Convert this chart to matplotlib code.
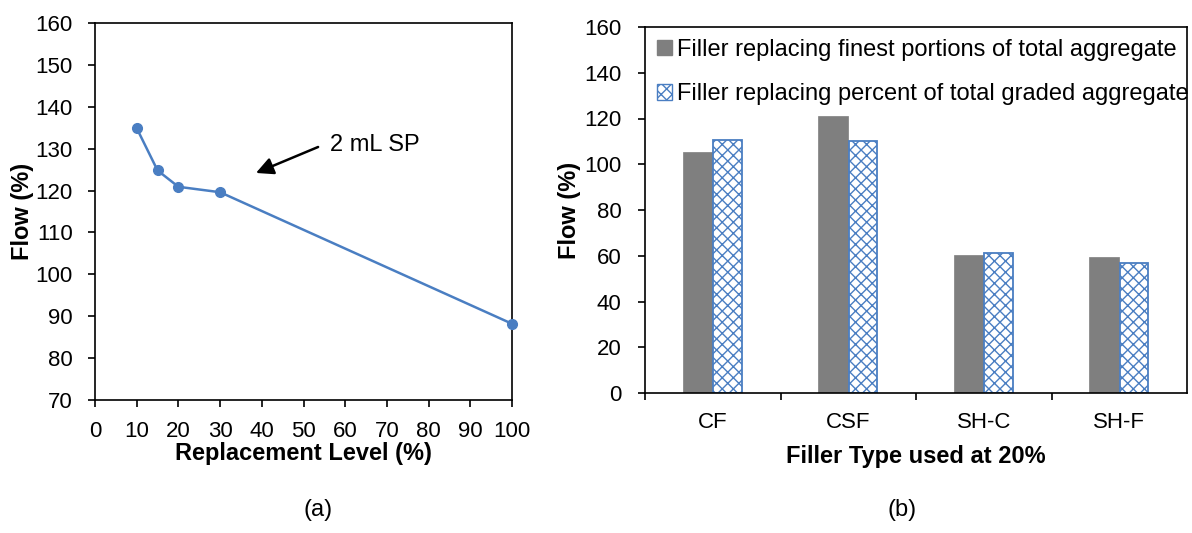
import matplotlib
matplotlib.use("Agg")
import matplotlib.pyplot as plt
from matplotlib.patches import Patch

plt.rcParams['font.family'] = ['Liberation Sans', 'DejaVu Sans']
plt.rcParams['hatch.linewidth'] = 1.0

# ---- data ----
repl_level = [10, 15, 20, 30, 100]
flow_a = [134.9, 124.8, 120.9, 119.6, 88.2]

categories = ['CF', 'CSF', 'SH-C', 'SH-F']
flow_finest = [105.2, 121.0, 60.4, 59.3]
flow_graded = [110.8, 110.1, 61.0, 56.9]
legend_labels = ['Filler replacing finest portions of total aggregate',
                 'Filler replacing percent of total graded aggregate']

W, H = 1192, 533
fig = plt.figure(figsize=(W / 100, H / 100), dpi=100)

def ax_rect(x0, y0, x1, y1):
    return [x0 / W, 1 - y1 / H, (x1 - x0) / W, (y1 - y0) / H]

blue = '#4A7EC2'
fs_tick = 16
fs_lab = 17

# ---- panel (a) ----
ax1 = fig.add_axes(ax_rect(95, 23, 512, 400))
ax1.plot(repl_level, flow_a, color=blue, lw=1.8, marker='o', ms=7, zorder=3,
         clip_on=False)
ax1.set_xlim(0, 100)
ax1.set_ylim(70, 160)
ax1.set_xticks(range(0, 101, 10))
ax1.set_yticks(range(70, 161, 10))
ax1.tick_params(direction='out', length=5, width=1.2, labelsize=fs_tick)
ax1.tick_params(axis='y', pad=11)
ax1.tick_params(axis='x', pad=10)
for s in ax1.spines.values():
    s.set_linewidth(1.2)
ax1.set_xlabel('Replacement Level (%)', fontsize=fs_lab, fontweight='bold', labelpad=0)
ax1.set_ylabel('Flow (%)', fontsize=fs_lab, fontweight='bold', labelpad=1)
ax1.annotate('', xy=(38.6, 124.2), xytext=(53.5, 130.4),
             arrowprops=dict(arrowstyle='-|>', color='black', lw=1.8,
                             mutation_scale=26, shrinkA=0, shrinkB=0))
ax1.text(56.4, 130.9, '2 mL SP', fontsize=fs_lab, va='center', ha='left')
fig.text(318 / W, 1 - 510 / H, '(a)', fontsize=fs_lab, ha='center', va='center')

# ---- panel (b) ----
ax2 = fig.add_axes(ax_rect(645, 27, 1187, 393))
x = list(range(len(categories)))
bw = 0.22
ax2.bar([i - bw / 2 for i in x], flow_finest, width=bw, color='#7F7F7F',
        edgecolor='#7F7F7F', lw=0.5, zorder=2)
ax2.bar([i + bw / 2 for i in x], flow_graded, width=bw - 0.01, color='white',
        edgecolor=blue, hatch='xxx', lw=1.3, zorder=2)
ax2.set_xlim(-0.5, 3.5)
ax2.set_ylim(0, 160)
ax2.set_yticks(range(0, 161, 20))
ax2.set_xticks([-0.5, 0.5, 1.5, 2.5])
ax2.set_xticklabels([])
ax2.set_xticks(x, minor=True)
ax2.set_xticklabels(categories, minor=True)
ax2.tick_params(axis='x', which='major', direction='out', length=5, width=1.2)
ax2.tick_params(axis='x', which='minor', length=0, labelsize=fs_tick, pad=14)
ax2.tick_params(axis='y', direction='out', length=5, width=1.2, labelsize=fs_tick, pad=12)
for s in ax2.spines.values():
    s.set_linewidth(1.2)
ax2.set_xlabel('Filler Type used at 20%', fontsize=fs_lab, fontweight='bold', labelpad=8)
ax2.set_ylabel('Flow (%)', fontsize=fs_lab, fontweight='bold', labelpad=2)
handles = [Patch(facecolor='#7F7F7F', edgecolor='#7F7F7F'),
           Patch(facecolor='white', edgecolor=blue, hatch='xxx')]
ax2.legend(handles, legend_labels, loc='upper left', frameon=False, fontsize=fs_lab,
           handlelength=0.65, handleheight=0.65, handletextpad=0.2,
           borderaxespad=0.1, borderpad=0.4, labelspacing=0.95)
fig.text(902 / W, 1 - 510 / H, '(b)', fontsize=fs_lab, ha='center', va='center')

fig.savefig('out.png', dpi=100)
